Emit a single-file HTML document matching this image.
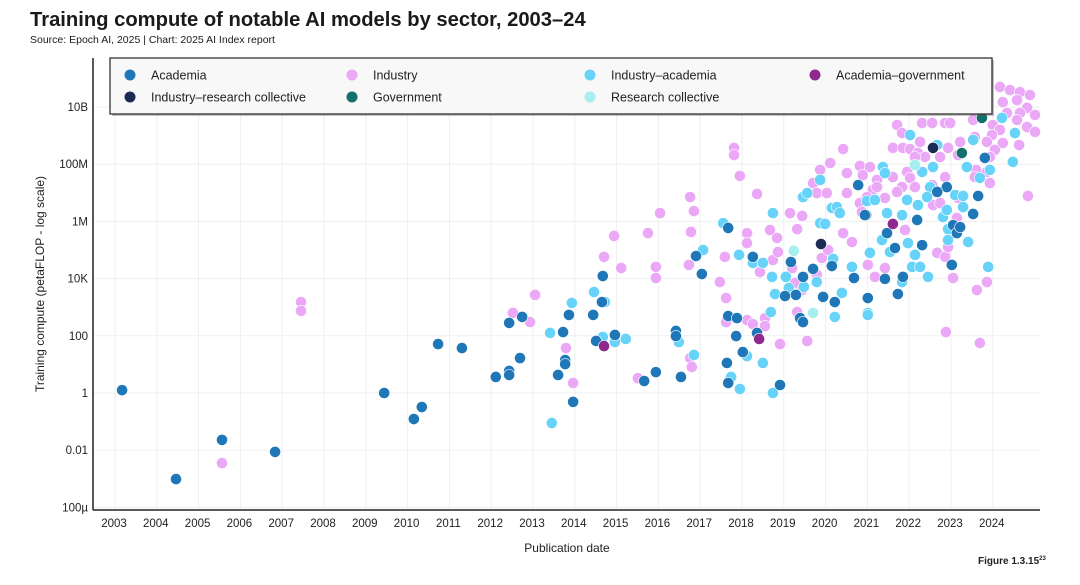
<!DOCTYPE html>
<html><head><meta charset="utf-8">
<style>
body{margin:0;background:#fff;font-family:"Liberation Sans",sans-serif;}
#wrap{position:relative;width:1080px;height:585px;overflow:hidden;}
</style></head>
<body>
<div id="wrap">
<svg id="chart" width="1080" height="585" xmlns="http://www.w3.org/2000/svg">
<text x="30" y="26" font-size="20.2" font-weight="bold" fill="#1a1a1a">Training compute of notable AI models by sector, 2003–24</text>
<text x="30" y="43" font-size="10.5" fill="#1a1a1a">Source: Epoch AI, 2025 | Chart: 2025 AI Index report</text>
<g id="grid"></g>
<g id="dots"></g>
<line x1="93" y1="58" x2="93" y2="510" stroke="#222" stroke-width="1.5"/>
<line x1="93" y1="510" x2="1040" y2="510" stroke="#222" stroke-width="1.5"/>
<g id="yticks"></g>
<g id="xticks"></g>
<text transform="translate(44,284) rotate(-90)" text-anchor="middle" font-size="12" fill="#222">Training compute (petaFLOP - log scale)</text>
<text x="567" y="552" text-anchor="middle" font-size="12" fill="#222">Publication date</text>
<text x="978" y="564" font-size="10" font-weight="bold" fill="#222">Figure 1.3.15<tspan font-size="6" dy="-4">23</tspan></text>
<g id="legend">
<rect x="112" y="60" width="882" height="56" fill="#555" opacity="0.35"/>
<rect x="110" y="58" width="882" height="56" fill="#f8f8f8" stroke="#333" stroke-width="1.3"/>
</g>
</svg>
</div>
<script>
const NS="http://www.w3.org/2000/svg";
const yTickVals=[-4,-2,0,2,4,6,8,10];
const yTickLabels=["100µ","0.01","1","100","10K","1M","100M","10B"];
const xTickYears=[2003,2004,2005,2006,2007,2008,2009,2010,2011,2012,2013,2014,2015,2016,2017,2018,2019,2020,2021,2022,2023,2024];
const seriesNames=["Academia","Industry","Industry–academia","Academia–government","Industry–research collective","Government","Research collective"];
const seriesColors=["#1f77b8","#eaa8f7","#68d3f8","#8e2a8e","#1a2b55","#13706b","#a6eef0"];
const academiaYear=[2003.17,2004.46,2005.56,2006.83,2009.44,2010.15,2010.34,2010.73,2011.30,2012.11,2012.43,2012.43,2012.43,2012.74,2012.69,2013.72,2013.86,2014.44,2014.67,2014.65,2014.51,2014.96,2013.77,2013.77,2013.60,2013.96,2015.66,2015.94,2016.90,2017.04,2017.67,2018.26,2019.17,2019.70,2019.46,2019.29,2019.03,2019.94,2020.22,2020.15,2020.68,2021.01,2020.78,2020.97,2017.67,2017.88,2019.39,2019.46,2018.36,2017.86,2016.42,2016.42,2016.54,2017.64,2017.67,2018.02,2018.91,2022.90,2023.65,2023.53,2023.81,2022.67,2022.19,2021.47,2021.66,2022.31,2023.05,2023.14,2023.22,2023.02,2021.85,2021.42,2021.73,2020.94];
const academiaLog=[0.10,-3.01,-1.64,-2.06,0,-0.91,-0.49,1.71,1.57,0.56,0.77,0.63,2.45,2.66,1.22,2.13,2.73,2.73,4.09,3.18,1.82,2.03,1.15,1.01,0.63,-0.31,0.42,0.73,4.79,4.16,5.77,4.76,4.58,4.34,4.06,3.43,3.39,3.36,3.18,4.44,4.02,3.32,7.27,6.22,2.69,2.62,2.62,2.48,2.10,1.99,2.17,1.99,0.56,1.05,0.35,1.43,0.28,7.20,6.89,6.26,8.22,7.03,6.05,5.59,5.07,5.17,5.87,5.59,5.80,4.48,4.06,3.99,3.46,6.22];
const industryYear=[2005.56,2007.45,2007.45,2012.52,2013.05,2012.93,2013.79,2013.96,2014.70,2014.94,2015.11,2015.75,2015.94,2015.94,2015.51,2016.04,2017.81,2017.81,2017.95,2018.36,2016.76,2016.85,2016.78,2018.12,2018.12,2017.59,2016.73,2017.47,2017.62,2017.62,2018.12,2018.26,2018.55,2018.55,2018.43,2018.74,2018.67,2018.84,2018.86,2019.15,2019.44,2019.32,2019.20,2019.27,2019.32,2019.56,2018.91,2016.76,2016.80,2017.71,2020.42,2019.87,2020.11,2019.70,2020.51,2020.82,2021.06,2020.51,2019.79,2020.03,2020.42,2020.63,2019.91,2020.06,2021.01,2021.18,2020.82,2020.87,2021.13,2019.79,2019.44,2024.17,2024.41,2024.65,2024.89,2024.24,2024.58,2024.82,2025.01,2024.65,2024.34,2024.00,2024.17,2024.58,2024.82,2025.01,2023.98,2023.86,2024.24,2024.63,2024.05,2023.93,2023.57,2023.53,2023.22,2023.17,2022.93,2022.31,2022.55,2022.86,2022.98,2021.71,2021.83,2021.61,2021.85,2022.02,2022.26,2022.21,2022.38,2022.14,2022.74,2020.89,2021.23,2021.23,2021.95,2022.02,2021.61,2021.83,2022.14,2022.86,2020.99,2021.42,2021.71,2022.55,2022.57,2022.74,2023.17,2023.60,2023.86,2023.57,2023.93,2024.84,2023.14,2021.90,2022.67,2022.86,2022.93,2021.42,2023.05,2023.86,2023.62,2022.88,2023.69];
const industryLog=[-2.45,3.18,2.87,2.80,3.43,2.48,1.57,0.35,4.76,5.49,4.37,5.59,4.41,4.02,0.52,6.29,8.57,8.32,7.59,6.96,6.85,6.36,5.63,5.59,5.24,4.76,4.48,3.88,3.32,2.48,2.55,2.41,2.62,2.34,4.23,4.65,5.70,5.42,4.93,6.29,6.19,5.73,4.37,3.85,2.83,1.82,1.71,1.22,0.91,0.52,8.53,7.80,8.04,7.34,7.69,7.94,7.90,6.99,6.99,6.99,5.59,5.28,4.72,5.00,4.48,4.06,6.64,6.33,7.10,4.13,3.60,10.70,10.59,10.52,10.42,10.17,10.24,9.97,9.72,9.79,9.79,9.37,9.20,9.55,9.30,9.13,9.02,8.78,8.74,8.67,8.50,8.25,8.95,9.55,8.78,8.32,8.57,9.44,9.44,9.44,9.44,9.37,9.09,8.57,8.57,8.53,8.78,8.39,8.25,8.25,8.25,7.62,7.45,7.20,7.73,7.52,7.55,7.20,7.20,7.55,6.85,6.82,7.03,7.27,6.57,6.64,6.82,7.80,7.73,7.55,7.34,6.89,6.12,5.70,4.90,4.76,5.10,4.37,4.02,3.88,3.60,2.13,1.75];
const indAcadYear=[2013.41,2013.93,2014.46,2014.72,2014.67,2014.96,2015.22,2013.45,2017.07,2017.55,2017.93,2018.26,2018.50,2018.74,2018.72,2019.05,2018.79,2019.12,2019.48,2019.79,2019.46,2019.56,2019.87,2019.87,2019.99,2020.15,2020.27,2020.34,2020.18,2020.63,2020.39,2020.22,2021.01,2021.06,2020.99,2021.18,2018.69,2016.49,2016.85,2018.12,2018.50,2017.74,2017.95,2018.74,2024.22,2024.53,2023.53,2022.02,2022.67,2021.37,2021.42,2022.57,2022.31,2023.38,2023.93,2023.69,2024.48,2022.50,2022.43,2023.10,2023.29,2021.95,2022.21,2021.47,2021.83,2022.81,2022.90,2023.29,2022.93,2022.93,2023.41,2021.35,2021.54,2021.97,2022.14,2022.07,2022.26,2021.83,2022.45,2023.89,2021.01];
const indAcadLog=[2.10,3.15,3.53,3.18,1.96,1.78,1.89,-1.05,5.00,5.94,4.83,4.55,4.55,6.29,4.06,4.06,3.46,3.67,3.71,3.88,6.85,6.99,7.45,5.94,5.91,6.47,6.50,6.29,4.69,4.41,3.50,2.66,2.80,4.90,6.71,6.75,2.83,1.78,1.33,1.29,1.05,0.56,0.14,0,9.62,9.09,8.85,9.02,8.67,7.90,7.69,7.90,7.73,7.90,7.80,7.52,8.08,7.20,6.85,6.92,6.89,6.75,6.57,6.29,6.22,6.15,6.40,6.50,5.73,5.35,5.28,5.35,4.93,5.24,4.83,4.41,4.41,3.88,4.06,4.41,2.73];
const acadGovYear=[2014.70,2018.41,2021.61];
const acadGovLog=[1.64,1.89,5.91];
const ircYear=[2019.89,2022.57];
const ircLog=[5.21,8.57];
const govYear=[2023.74,2023.26];
const govLog=[9.62,8.39];
const rcYear=[2019.24,2019.70,2022.14];
const rcLog=[4.97,2.80,7.97];

const X0=115, PXY=41.8, Y0=393, PXL=28.6;
function xScale(yr){return X0+(yr-2003)*PXY;}
function yScale(lg){return Y0-lg*PXL;}
function mk(tag,attrs,parent){const e=document.createElementNS(NS,tag);for(const k in attrs)e.setAttribute(k,attrs[k]);parent.appendChild(e);return e;}

const grid=document.getElementById('grid');
const yt=document.getElementById('yticks');
const xt=document.getElementById('xticks');
yTickVals.forEach((v,i)=>{
  const y=yScale(v);
  const gl=mk('line',{x1:94,x2:1040,y1:y,y2:y,stroke:'#efefef','stroke-width':1},grid);
  
  
  const t=mk('text',{x:88,y:y+4,'text-anchor':'end','font-size':11.5,fill:'#222'},yt);
  t.textContent=yTickLabels[i];
  
  
});
xTickYears.forEach(yr=>{
  const x=xScale(yr);
  const gl=mk('line',{x1:x,x2:x,y1:58,y2:509,stroke:'#efefef','stroke-width':1},grid);
  
  
  const t=mk('text',{x:x-1,y:527,'text-anchor':'middle','font-size':11.5,fill:'#222'},xt);
  t.textContent=String(yr);
  
  
});

const dots=document.getElementById('dots');
function drawSeries(years,logs,ci,name){
  years.forEach((yr,i)=>{
    const c=mk('circle',{cx:xScale(yr),cy:yScale(logs[i]),r:5.6,fill:seriesColors[ci],stroke:'#fff','stroke-width':0.6},dots);
    
    
  });
}
drawSeries(industryYear,industryLog,1,'industry-point');
drawSeries(indAcadYear,indAcadLog,2,'industry-academia-point');
drawSeries(academiaYear,academiaLog,0,'academia-point');
drawSeries(rcYear,rcLog,6,'research-collective-point');
drawSeries(acadGovYear,acadGovLog,3,'academia-government-point');
drawSeries(ircYear,ircLog,4,'industry-research-collective-point');
drawSeries(govYear,govLog,5,'government-point');

const legend=document.getElementById('legend');
const legPos=[[130,75,0],[352,75,1],[590,75,2],[815,75,3],[130,97,4],[352,97,5],[590,97,6]];
legPos.forEach(p=>{
  const g=mk('g',{},legend);
  
  
  mk('circle',{cx:p[0],cy:p[1],r:5.5,fill:seriesColors[p[2]]},g);
  const t=mk('text',{x:p[0]+21,y:p[1]+4.5,'font-size':12.5,fill:'#222'},g);
  t.textContent=seriesNames[p[2]];
});
</script>
</body></html>
